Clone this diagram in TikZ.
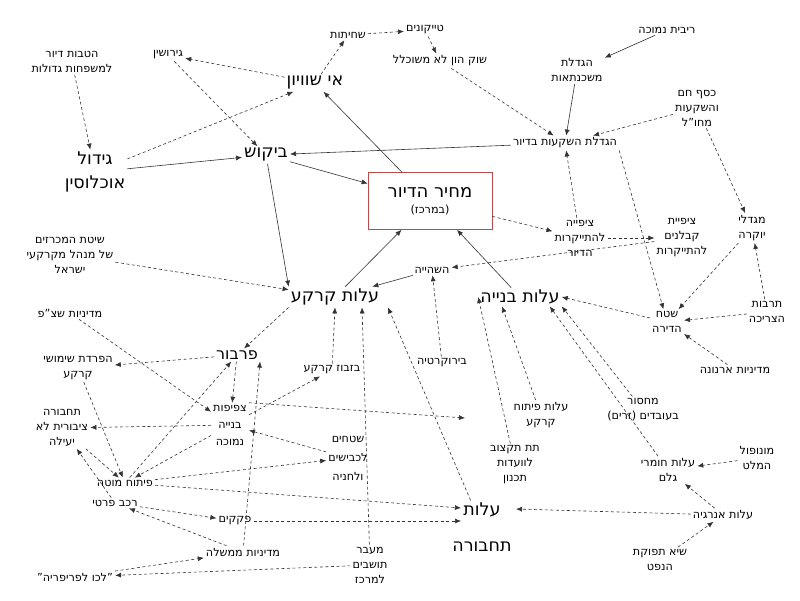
\documentclass[tikz,border=0pt]{standalone}
\usepackage{fontspec}
\setmainfont{DejaVu Sans}
\usetikzlibrary{arrows.meta}
\TeXXeTstate=1
\newcommand{\heb}[1]{\beginR #1\endR}
\begin{document}
\begin{tikzpicture}[x=1pt,y=-1pt,
  sm/.style={font=\fontsize{11.2}{15}\selectfont,align=center,inner sep=2pt},
  bg/.style={font=\fontsize{17.5}{24}\selectfont,align=center,inner sep=2pt},
  sol/.style={-{Latex[length=6pt,width=5pt]},line width=0.6pt,draw=black!80},
  das/.style={sol,dashed,dash pattern=on 3pt off 2.5pt}]
\useasboundingbox (0,0) rectangle (800,600);
\node[sm] (A) at (72,62) {\heb{הטבות דיור}\\\heb{למשפחות גדולות}};
\node[bg] (B) at (95,172) {\heb{גידול}\\\heb{אוכלוסין}};
\node[sm] (C) at (168,55) {\heb{גירושין}};
\node[sm] (D) at (348,35) {\heb{שחיתות}};
\node[bg] (E) at (315,83) {\heb{אי שוויון}};
\node[bg] (F) at (266,155) {\heb{ביקוש}};
\node[sm] (G) at (425,30) {\heb{טייקונים}};
\node[sm] (H) at (440,61) {\heb{שוק הון לא משוכלל}};
\node[sm] (I) at (667,30) {\heb{ריבית נמוכה}};
\node[sm] (J) at (577,70) {\heb{הגדלת}\\\heb{משכנתאות}};
\node[sm] (K) at (697,108) {\heb{כסף חם}\\\heb{והשקעות}\\\heb{מחו"ל}};
\node[sm] (L) at (565,143) {\heb{הגדלת השקעות בדיור}};
\node[draw=red!60!black!70,line width=0.7pt,minimum width=124pt,minimum height=57pt,align=center] (M) at (430,201)
  {\fontsize{18}{22}\selectfont\heb{מחיר הדיור}\\[4pt]\fontsize{11.2}{14}\selectfont(\heb{במרכז})};
\node[sm] (N) at (580,238) {\heb{ציפייה}\\\heb{להתייקרות}\\\heb{הדיור}};
\node[sm] (O) at (682,238) {\heb{ציפיית}\\\heb{קבלנים}\\\heb{להתייקרות}};
\node[sm] (P) at (752,228) {\heb{מגדלי}\\\heb{יוקרה}};
\node[sm] (Q) at (70,255) {\heb{שיטת המכרזים}\\\heb{של מנהל מקרקעי}\\\heb{ישראל}};
\node[sm] (R) at (432,270) {\heb{השהייה}};
\node[bg] (S) at (335,297) {\heb{עלות קרקע}};
\node[bg] (T) at (520,297) {\heb{עלות בנייה}};
\node[sm] (U) at (767,312) {\heb{תרבות}\\\heb{הצריכה}};
\node[sm] (V) at (667,322) {\heb{שטח}\\\heb{הדירה}};
\node[sm] (W) at (735,370) {\heb{מדיניות ארנונה}};
\node[sm] (X) at (70,313) {\heb{מדיניות שצ"פ}};
\node[font=\fontsize{16}{18}\selectfont,inner sep=2pt] (Y) at (237,355) {\heb{פרבור}};
\node[sm] (Z) at (78,368) {\heb{הפרדת שימושי}\\\heb{קרקע}};
\node[sm] (AA) at (332,370) {\heb{בזבוז קרקע}};
\node[sm] (AB) at (442,363) {\heb{בירוקרטיה}};
\node[sm] (AC) at (541,415) {\heb{עלות פיתוח}\\\heb{קרקע}};
\node[sm] (AD) at (643,410) {\heb{מחסור}\\(\heb{זרים}) \heb{בעובדים}};
\node[sm,font=\fontsize{11.2}{17}\selectfont] (AE) at (230,425) {\heb{צפיפות}\\\heb{בנייה}\\\heb{נמוכה}};
\node[sm] (AF) at (62,428) {\heb{תחבורה}\\\heb{ציבורית לא}\\\heb{יעילה}};
\node[sm,font=\fontsize{11.2}{19}\selectfont] (AG) at (348,458) {\heb{שטחים}\\\heb{לכבישים}\\\heb{ולחניה}};
\node[sm] (AH) at (515,465) {\heb{תת תקצוב}\\\heb{לוועדות}\\\heb{תכנון}};
\node[sm] (AI) at (668,470) {\heb{עלות חומרי}\\\heb{גלם}};
\node[sm] (AJ) at (757,458) {\heb{מונופול}\\\heb{המלט}};
\node[sm] (AK) at (125,483) {\heb{פיתוח מוטה}};
\node[sm] (AL) at (115,503) {\heb{רכב פרטי}};
\node[sm] (AM) at (235,521) {\heb{פקקים}};
\node[bg,font=\fontsize{17.5}{36}\selectfont] (AN) at (482,527) {\heb{עלות}\\\heb{תחבורה}};
\node[sm] (AO) at (723,515) {\heb{עלות אנרגיה}};
\node[sm] (AP) at (243,552) {\heb{מדיניות ממשלה}};
\node[sm] (AQ) at (370,565) {\heb{מעבר}\\\heb{תושבים}\\\heb{למרכז}};
\node[sm] (AR) at (660,560) {\heb{שיא תפוקת}\\\heb{הנפט}};
\node[sm] (AS) at (75,577) {"\heb{לכו לפריפריה}"};
\coordinate (an1) at (461,508);
\coordinate (an2) at (461,521);
\coordinate (an3) at (516,509);
\coordinate (ac1) at (465,418);
% solid
\draw[sol] (B) -- (F);
\draw[sol] (I) -- (J);
\draw[sol] (J) -- (L);
\draw[sol] (L) -- (F);
\draw[sol] (F) -- (M);
\draw[sol] (F) -- (S.north west);
\draw[sol] (M) -- (E);
\draw[sol] (R) -- (S);
\draw[sol] (S) -- (M);
\draw[sol] (T) -- (M);
% dashed
\draw[das] (B) -- (E);
\draw[das] (A) -- (B);
\draw[das] (C) -- (F);
\draw[das] (E) -- (C);
\draw[das] (E) -- (D);
\draw[das] (D) -- (G);
\draw[das] (G) -- (H);
\draw[das] (H) -- (L);
\draw[das] (K) -- (L);
\draw[das] (K) -- (P);
\draw[das] (L.south east) -- (V);
\draw[das] (M) -- (N);
\draw[das] (N) -- (L);
\draw[das] (N) -- (O);
\draw[das] (O) -- (R);
\draw[das] (Q) -- (S);
\draw[das] (AB) -- (R);
\draw[das] (P) -- (V);
\draw[das] (U) -- (P);
\draw[das] (U) -- (V);
\draw[das] (W) -- (V);
\draw[das] (V) -- (T.east);
\draw[das] (AD) -- (T.south east);
\draw[das] (AI) -- ([xshift=-12pt]T.south east);
\draw[das] (AC) -- ([xshift=-18pt]T.south);
\draw[das] (AH) -- (T.west);
\draw[das] (S.south west) -- (Y);
\draw[das] (AA) -- (S.south);
\draw[das] (AQ) -- ([xshift=27pt]S.south);
\draw[das] (AN) -- ([xshift=53pt]S.south);
\draw[das] (X) -- (AE);
\draw[das] (Y) -- (Z);
\draw[das] (Y) -- (AE);
\draw[das] (AK) -- (Y);
\draw[das] (Z) -- (AK);
\draw[das] (AE) -- (AA);
\draw[das] (AE) -- (AF);
\draw[das] (AE.north east) -- (ac1);
\draw[das] (AG) -- (AE);
\draw[das] (AE) -- (AK);
\draw[das] (AF) -- (AK);
\draw[das] (AL) -- (AF);
\draw[das] (AK) -- (AG);
\draw[das] (AK) -- (an1);
\draw[das] (AL) -- (AM);
\draw[das] (AM) -- (an2);
\draw[das] (AP) -- (AL);
\draw[das] (AP) -- (Y.south east);
\draw[das] (AS) -- (AP);
\draw[das] (AQ) -- (AS);
\draw[das] (AJ) -- (AI);
\draw[das] (AO) -- (AI);
\draw[das] (AO) -- (an3);
\draw[das] (AR) -- (AO);
\end{tikzpicture}
\end{document}
